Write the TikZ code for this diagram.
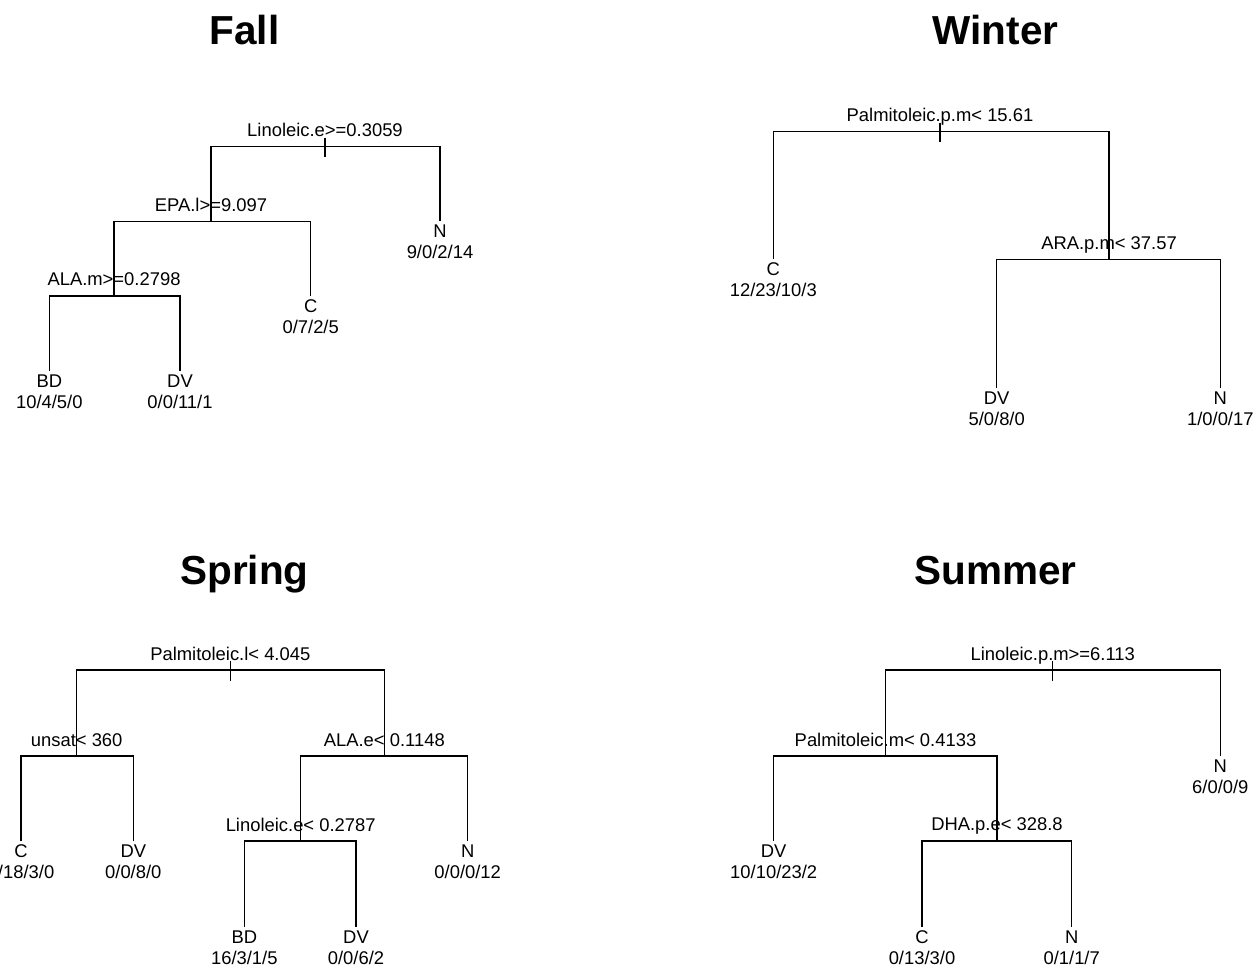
\documentclass[tikz,border=0pt]{standalone}
\usepackage{fontspec}
\setmainfont{Liberation Sans}
\newcommand\mylab{\fontsize{18.4}{21}\selectfont}
\newcommand\mytitle{\fontsize{40.5}{45}\selectfont\bfseries}
\tikzset{
  edge/.style={line width=1.4pt},
  split/.style={anchor=base, inner sep=0pt, font=\mylab, yshift=10pt},
  cls/.style={anchor=base, inner sep=0pt, font=\mylab, yshift=-16.5pt},
  cnt/.style={anchor=base, inner sep=0pt, font=\mylab, yshift=-37.5pt},
  ttl/.style={anchor=base, inner sep=0pt, font=\mytitle},
}
\begin{document}
\begin{tikzpicture}[x=1pt,y=-1pt]
\useasboundingbox (0,0) rectangle (1256,968);
\clip (0,0) rectangle (1256,968);

% ---------------- Fall ----------------
\node[ttl] (tFall) at (244.5,44.5) {Fall};
\coordinate (F0) at (325,146.7);
\coordinate (F1) at (211,221.3);
\coordinate (FN) at (440,221.3);
\coordinate (F2) at (114,296);
\coordinate (FC) at (310.7,296);
\coordinate (FBD) at (49.3,371);
\coordinate (FDV) at (180,371);
\draw[edge] (F0) -| (F1);
\draw[edge] (F0) -| (FN);
\draw[edge] (F1) -| (F2);
\draw[edge] (F1) -| (FC);
\draw[edge] (F2) -| (FBD);
\draw[edge] (F2) -| (FDV);
\draw[edge] ([yshift=9pt]F0) -- ([yshift=-10.5pt]F0);
\node[split] (F0l) at (F0) {Linoleic.e>=0.3059};
\node[split] (F1l) at (F1) {EPA.l>=9.097};
\node[split] (F2l) at (F2) {ALA.m>=0.2798};
\node[cls] (FNa) at (FN) {N};
\node[cnt] (FNb) at (FN) {9/0/2/14};
\node[cls] (FCa) at (FC) {C};
\node[cnt] (FCb) at (FC) {0/7/2/5};
\node[cls] (FBDa) at (FBD) {BD};
\node[cnt] (FBDb) at (FBD) {10/4/5/0};
\node[cls] (FDVa) at (FDV) {DV};
\node[cnt] (FDVb) at (FDV) {0/0/11/1};

% ---------------- Winter ----------------
\node[ttl] (tWinter) at (995.5,44.5) {Winter};
\coordinate (W0) at (940,131.7);
\coordinate (WC) at (773.3,259.5);
\coordinate (W1) at (1109,259.5);
\coordinate (WDV) at (996.7,387.5);
\coordinate (WN) at (1220.3,387.5);
\draw[edge] (W0) -| (WC);
\draw[edge] (W0) -| (W1);
\draw[edge] (W1) -| (WDV);
\draw[edge] (W1) -| (WN);
\draw[edge] ([yshift=9pt]W0) -- ([yshift=-10.5pt]W0);
\node[split] (W0l) at (W0) {Palmitoleic.p.m< 15.61};
\node[split] (W1l) at (W1) {ARA.p.m< 37.57};
\node[cls] (WCa) at (WC) {C};
\node[cnt] (WCb) at (WC) {12/23/10/3};
\node[cls] (WDVa) at (WDV) {DV};
\node[cnt] (WDVb) at (WDV) {5/0/8/0};
\node[cls] (WNa) at (WN) {N};
\node[cnt] (WNb) at (WN) {1/0/0/17};

% ---------------- Spring ----------------
\node[ttl] (tSpring) at (244.5,584) {Spring};
\coordinate (S0) at (230.3,670);
\coordinate (S1) at (76.7,756);
\coordinate (S2) at (384.3,756);
\coordinate (SC) at (21,841);
\coordinate (SDV) at (133.3,841);
\coordinate (S3) at (300.7,841);
\coordinate (SN) at (467.7,841);
\coordinate (SBD) at (244.3,926.7);
\coordinate (SDVb) at (356,926.7);
\draw[edge] (S0) -| (S1);
\draw[edge] (S0) -| (S2);
\draw[edge] (S1) -| (SC);
\draw[edge] (S1) -| (SDV);
\draw[edge] (S2) -| (S3);
\draw[edge] (S2) -| (SN);
\draw[edge] (S3) -| (SBD);
\draw[edge] (S3) -| (SDVb);
\draw[edge] ([yshift=9pt]S0) -- ([yshift=-10.5pt]S0);
\node[split] (S0l) at (S0) {Palmitoleic.l< 4.045};
\node[split] (S1l) at (S1) {unsat< 360};
\node[split] (S2l) at (S2) {ALA.e< 0.1148};
\node[split] (S3l) at (S3) {Linoleic.e< 0.2787};
\node[cls] (SCa) at (SC) {C};
\node[cnt] (SCb) at (SC) {0/18/3/0};
\node[cls] (SDVa) at (SDV) {DV};
\node[cnt] (SDVc) at (SDV) {0/0/8/0};
\node[cls] (SNa) at (SN) {N};
\node[cnt] (SNb) at (SN) {0/0/0/12};
\node[cls] (SBDa) at (SBD) {BD};
\node[cnt] (SBDc) at (SBD) {16/3/1/5};
\node[cls] (SDVba) at (SDVb) {DV};
\node[cnt] (SDVbb) at (SDVb) {0/0/6/2};

% ---------------- Summer ----------------
\node[ttl] (tSummer) at (995.5,584) {Summer};
\coordinate (U0) at (1052.7,670);
\coordinate (U1) at (885.5,756);
\coordinate (UN) at (1220.3,756);
\coordinate (UDV) at (773.7,840.8);
\coordinate (U2) at (997,840.8);
\coordinate (UC) at (922,926.5);
\coordinate (UNb) at (1071.7,926.5);
\draw[edge] (U0) -| (U1);
\draw[edge] (U0) -| (UN);
\draw[edge] (U1) -| (UDV);
\draw[edge] (U1) -| (U2);
\draw[edge] (U2) -| (UC);
\draw[edge] (U2) -| (UNb);
\draw[edge] ([yshift=9pt]U0) -- ([yshift=-10.5pt]U0);
\node[split] (U0l) at (U0) {Linoleic.p.m>=6.113};
\node[split] (U1l) at (U1) {Palmitoleic.m< 0.4133};
\node[split] (U2l) at (U2) {DHA.p.e< 328.8};
\node[cls] (UNa) at (UN) {N};
\node[cnt] (UNc) at (UN) {6/0/0/9};
\node[cls] (UDVa) at (UDV) {DV};
\node[cnt] (UDVc) at (UDV) {10/10/23/2};
\node[cls] (UCa) at (UC) {C};
\node[cnt] (UCc) at (UC) {0/13/3/0};
\node[cls] (UNba) at (UNb) {N};
\node[cnt] (UNbb) at (UNb) {0/1/1/7};
\end{tikzpicture}
\end{document}
